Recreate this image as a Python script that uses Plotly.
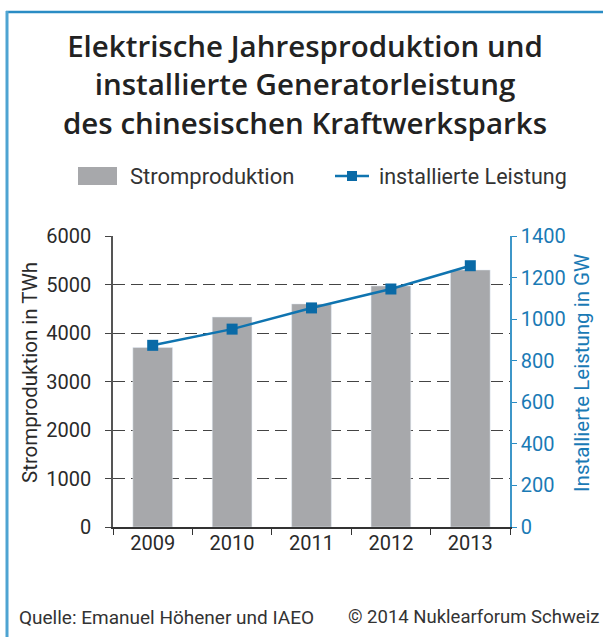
import plotly.graph_objects as go

years = ["2009", "2010", "2011", "2012", "2013"]
strom_twh = [3700, 4330, 4600, 4970, 5300]
leistung_gw = [874, 952, 1054, 1145, 1257]

title_text = "Elektrische Jahresproduktion und<br>installierte Generatorleistung<br>des chinesischen Kraftwerksparks"
legend_labels = ["Stromproduktion", "installierte Leistung"]
y1_title = "Stromproduktion in TWh"
y2_title = "Installierte Leistung in GW"
source_text = "Quelle: Emanuel Höhener und IAEO"
copyright_text = "© 2014 Nuklearforum Schweiz"

W, H = 603, 637
L, R, T, B = 113, 510, 236, 527  # plot area in pixels

BAR = "#a7a8ab"
BLUE = "#0f74b0"
FRAME = "#4ea4d2"
DARK = "#2a2a2a"
FONT = "Roboto"


def px(x):
    return (x - L) / (R - L)


def py(y):
    return (B - y) / (B - T)


fig = go.Figure()
fig.add_trace(go.Bar(x=years, y=strom_twh, marker_color=BAR, width=0.5,
                     name=legend_labels[0], showlegend=False))
fig.add_trace(go.Scatter(x=years, y=leistung_gw, yaxis="y2", mode="lines+markers",
                         line=dict(color=BLUE, width=2.5),
                         marker=dict(symbol="square", size=11, color="#0a6aa6"),
                         name=legend_labels[1], showlegend=False))

shapes = []
# frame (top and left edges)
shapes.append(dict(type="line", xref="paper", yref="paper", x0=px(6), x1=px(W + 10),
                   y0=py(12), y1=py(12), line=dict(color="#2a8cc4", width=2.5)))
shapes.append(dict(type="line", xref="paper", yref="paper", x0=px(7), x1=px(7),
                   y0=py(11), y1=py(H + 10), line=dict(color=FRAME, width=3)))
# legend glyphs
shapes.append(dict(type="rect", xref="paper", yref="paper", x0=px(78), x1=px(117),
                   y0=py(167), y1=py(185), fillcolor=BAR, line=dict(width=0)))
shapes.append(dict(type="line", xref="paper", yref="paper", x0=px(335), x1=px(369),
                   y0=py(176), y1=py(176), line=dict(color=BLUE, width=2.5)))
shapes.append(dict(type="rect", xref="paper", yref="paper", x0=px(347), x1=px(357),
                   y0=py(171), y1=py(181), fillcolor="#0a6aa6", line=dict(width=0)))

annotations = [
    dict(text=title_text, xref="paper", yref="paper",
         x=px(305), y=py(84), xanchor="center", yanchor="middle", showarrow=False,
         font=dict(family="Open Sans", size=29.5, weight=600, color="#222222")),
    dict(text=legend_labels[0], xref="paper", yref="paper", x=px(128), y=py(176),
         xanchor="left", yanchor="middle", showarrow=False,
         font=dict(family=FONT, size=22, color="#333333")),
    dict(text=legend_labels[1], xref="paper", yref="paper", x=px(377), y=py(176),
         xanchor="left", yanchor="middle", showarrow=False,
         font=dict(family=FONT, size=21.5, color="#333333")),
    dict(text=y1_title, xref="paper", yref="paper", x=px(30), y=py(373),
         xanchor="center", yanchor="middle", textangle=-90, showarrow=False,
         font=dict(family=FONT, size=20.5, color=DARK)),
    dict(text=y2_title, xref="paper", yref="paper", x=px(582), y=py(373),
         xanchor="center", yanchor="middle", textangle=-90, showarrow=False,
         font=dict(family=FONT, size=20.5, color="#1a7ab5")),
    dict(text=source_text, xref="paper", yref="paper", x=px(17), y=py(617),
         xanchor="left", yanchor="middle", showarrow=False,
         font=dict(family=FONT, size=19, color="#333333")),
    dict(text=copyright_text, xref="paper", yref="paper", x=px(601), y=py(617),
         xanchor="right", yanchor="middle", showarrow=False,
         font=dict(family=FONT, size=18.5, color="#333333")),
]

fig.update_layout(
    width=W, height=H,
    margin=dict(l=L, r=W - R, t=T, b=H - B, autoexpand=False),
    paper_bgcolor="white", plot_bgcolor="white",
    showlegend=False,
    font=dict(family=FONT, size=20, color=DARK),
    shapes=shapes, annotations=annotations,
    xaxis=dict(type="category", tickson="boundaries", ticks="outside", ticklen=6,
               tickcolor="#333333", showline=True, linecolor="#333333", linewidth=1.5,
               showgrid=False, ticklabelstandoff=-3,
               tickfont=dict(family=FONT, size=20, color=DARK)),
    yaxis=dict(range=[0, 6000], dtick=1000, ticks="outside", ticklen=6,
               tickcolor="#444444", showline=True, linecolor="#555555", linewidth=1.5,
               showgrid=True, gridcolor="#444444", gridwidth=1.3, griddash="12px,6px",
               zeroline=False, ticklabelstandoff=10,
               tickfont=dict(family=FONT, size=20, color=DARK)),
    yaxis2=dict(range=[0, 1400], dtick=200, overlaying="y", side="right",
                ticks="outside", ticklen=5, tickcolor="#2a8cc4", showline=True,
                linecolor="#3d96c8", linewidth=1.5, showgrid=False, zeroline=False,
                tickfont=dict(family=FONT, size=20, color="#1a7ab5")),
    bargap=0.5,
)

fig.write_html("out.html", config={"displayModeBar": False},
               post_script="document.body.style.margin='0';document.body.style.overflow='hidden';")
